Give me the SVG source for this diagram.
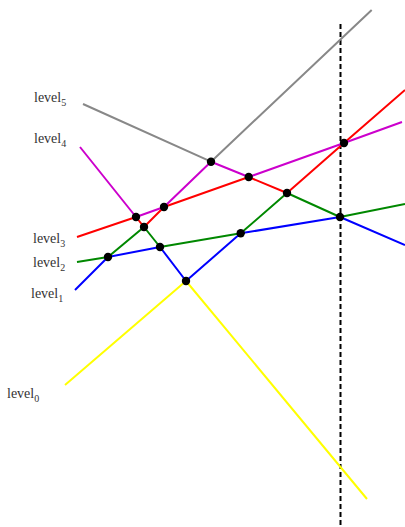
<svg xmlns="http://www.w3.org/2000/svg" width="405" height="527" viewBox="0 0 405 527">
<style>
.l{fill:none;stroke-width:2;stroke-linejoin:round}
.t{font-family:"Liberation Serif",serif;font-size:14px;fill:#333}
.s{font-size:10px}
.d{fill:#000}
</style>
<rect width="405" height="527" fill="#fff"/>
<g id="connectors">
<line x1="340.5" y1="24" x2="340.5" y2="527" stroke="#000" stroke-width="2" stroke-dasharray="5,3"/>
<polyline id="level0-line" class="l" stroke="#ffff00" points="65,385 186,281 367,499"/>
<polyline id="level1-line" class="l" stroke="#0000ff" points="75,290 108,257 160,247 186,281 240.7,233.3 340,217 405,245"/>
<polyline id="level2-line" class="l" stroke="#008800" points="77,262 108,257 144,227 160,247 240.7,233.3 287,193 340,217 405,204"/>
<polyline id="level3-line" class="l" stroke="#ff0000" points="77,237 136,217 144,227 164,207 248.7,177 287,193 344,143 405,90"/>
<polyline id="level4-line" class="l" stroke="#cc00cc" points="80,147 136,217 164,207 211,161.7 248.7,177 344,143 402,122"/>
<polyline id="level5-line" class="l" stroke="#888888" points="83,104 211,161.7 371.7,10"/>
</g>
<g id="vertices">
<circle class="d" cx="211" cy="161.7" r="4.2"/>
<circle class="d" cx="248.7" cy="177" r="4.2"/>
<circle class="d" cx="287" cy="193" r="4.2"/>
<circle class="d" cx="344" cy="143" r="4.2"/>
<circle class="d" cx="340" cy="217" r="4.2"/>
<circle class="d" cx="240.7" cy="233.3" r="4.2"/>
<circle class="d" cx="136" cy="217" r="4.2"/>
<circle class="d" cx="164" cy="207" r="4.2"/>
<circle class="d" cx="144" cy="227" r="4.2"/>
<circle class="d" cx="160" cy="247" r="4.2"/>
<circle class="d" cx="108" cy="257" r="4.2"/>
<circle class="d" cx="186" cy="281" r="4.2"/>
</g>
<g id="level5"><text class="t" x="34" y="102">level<tspan class="s" dy="4">5</tspan></text></g>
<g id="level4"><text class="t" x="34" y="143">level<tspan class="s" dy="4">4</tspan></text></g>
<g id="level3"><text class="t" x="33" y="243">level<tspan class="s" dy="4">3</tspan></text></g>
<g id="level2"><text class="t" x="33" y="267">level<tspan class="s" dy="4">2</tspan></text></g>
<g id="level1"><text class="t" x="31" y="298">level<tspan class="s" dy="4">1</tspan></text></g>
<g id="level0"><text class="t" x="7" y="398">level<tspan class="s" dy="4">0</tspan></text></g>
</svg>
